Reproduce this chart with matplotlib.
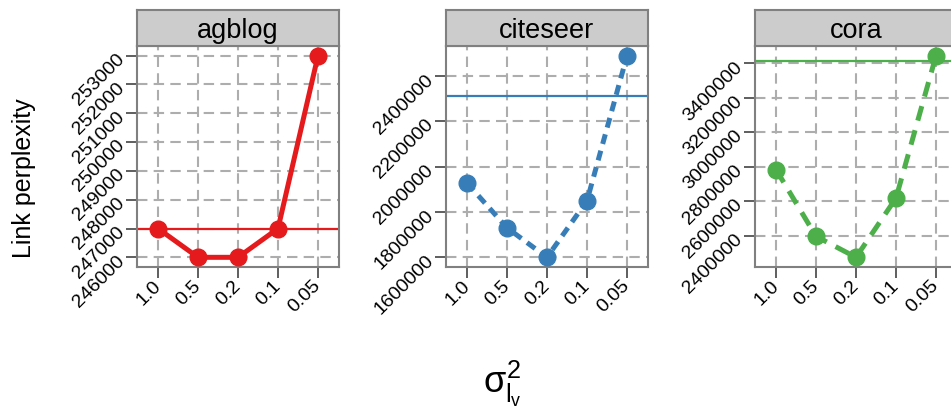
import numpy as np
import matplotlib
matplotlib.use("Agg")
import matplotlib.pyplot as plt
from matplotlib.ticker import MultipleLocator, FuncFormatter

plt.rcParams['font.family'] = ['Liberation Sans', 'DejaVu Sans']
plt.rcParams['mathtext.fontset'] = 'custom'
plt.rcParams['mathtext.rm'] = 'Liberation Sans'
plt.rcParams['mathtext.it'] = 'Liberation Sans'
plt.rcParams['mathtext.bf'] = 'Liberation Sans:bold'

# donnees
sigma_labels = ["1.0", "0.5", "0.2", "0.1", "0.05"]
datasets = ["agblog", "citeseer", "cora"]
agblog = [247000, 246000, 246000, 247000, 253000]
citeseer = [1927000, 1728000, 1597000, 1848000, 2492000]
cora = [2784000, 2396000, 2274000, 2618000, 3445000]
baselines = [247000, 2311000, 3412000]
tick_steps = [1000, 200000, 200000]

series = [agblog, citeseer, cora]
colors = ["#E41A1C", "#377EB8", "#4DAF4A"]
styles = ["-", (0, (2, 1.4)), (0, (3, 2))]

W, H = 951, 414
fig = plt.figure(figsize=(W / 100, H / 100), dpi=100)

lefts = [137, 446, 755]
pw = 202
top, bottom = 47, 268
strip_top = 11
frame_col = "#808080"

x = np.arange(len(sigma_labels))
for i, name in enumerate(datasets):
    ax = fig.add_axes([lefts[i] / W, (H - bottom) / H, pw / W, (bottom - top) / H])
    y = np.array(series[i])
    rng = y.max() - y.min()
    ax.set_ylim(y.min() - 0.048 * rng, y.max() + 0.048 * rng)
    ax.set_xlim(-0.525, 4.525)

    ax.yaxis.set_major_locator(MultipleLocator(tick_steps[i]))
    ax.yaxis.set_major_formatter(FuncFormatter(lambda v, p: "%d" % v))
    ax.set_xticks(x)
    ax.set_xticklabels(sigma_labels)

    ax.grid(True, color="#adadad", lw=1.5, linestyle=(0, (5, 3)), zorder=0)
    ax.set_axisbelow(True)

    ax.axhline(baselines[i], color=colors[i], lw=1.6, zorder=2)
    ax.plot(x, y, color=colors[i], lw=3.6, linestyle=styles[i], zorder=3)
    ax.plot(x, y, "o", color=colors[i], ms=12, zorder=4)

    for s in ax.spines.values():
        s.set_color(frame_col)
        s.set_linewidth(1.5)
    ax.tick_params(length=8, width=1.1, color="#333333", pad=3, labelsize=14)
    for lab in ax.get_yticklabels():
        lab.set_rotation(45)
        lab.set_rotation_mode("anchor")
        lab.set_ha("right")
        lab.set_va("center")
    for lab in ax.get_xticklabels():
        lab.set_rotation(45)
        lab.set_rotation_mode("anchor")
        lab.set_ha("right")
        lab.set_va("center")

    # bandeau du titre
    sax = fig.add_axes([lefts[i] / W, (H - top) / H, pw / W, (top - strip_top) / H])
    sax.set_facecolor("#cccccc")
    sax.set_xticks([])
    sax.set_yticks([])
    for s in sax.spines.values():
        s.set_color(frame_col)
        s.set_linewidth(1.5)
    sax.text(0.5, 0.45, name, ha="center", va="center", fontsize=19.5, transform=sax.transAxes)

fig.text(0.025, 0.569, "Link perplexity", rotation=90, ha="center", va="center", fontsize=18)
fig.text(0.528, 0.05, r"$\sigma^2_{l_v}$", ha="center", va="baseline", fontsize=26)

fig.savefig("out.png", dpi=100)
